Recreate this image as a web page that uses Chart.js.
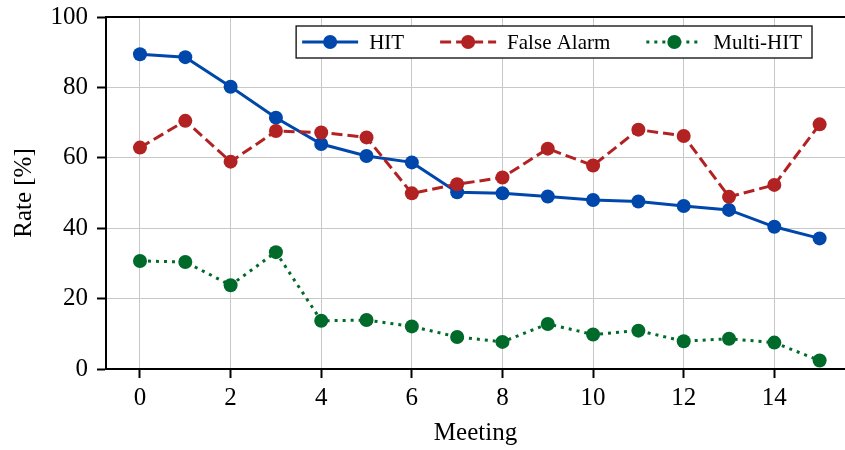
<!DOCTYPE html>
<html>
<head>
<meta charset="utf-8">
<script src="https://cdn.jsdelivr.net/npm/chart.js@4.4.1/dist/chart.umd.min.js"></script>
<style>
  html, body { margin: 0; padding: 0; background: #ffffff; overflow: hidden; }
  canvas { display: block; }
</style>
</head>
<body>
<canvas id="chart" width="845" height="450"></canvas>
<script>
// Per-meeting detection rates (percent)
const meetings = [0, 1, 2, 3, 4, 5, 6, 7, 8, 9, 10, 11, 12, 13, 14, 15];
const hitRate = [89.4, 88.6, 80.2, 71.4, 63.9, 60.5, 58.7, 50.2, 49.9, 49.0, 48.0, 47.6, 46.3, 45.2, 40.4, 37.1];
const falseAlarmRate = [62.9, 70.5, 58.9, 67.6, 67.2, 65.8, 49.9, 52.5, 54.4, 62.6, 57.8, 68.0, 66.2, 48.9, 52.3, 69.5];
const multiHitRate = [30.7, 30.4, 23.8, 33.2, 13.7, 13.9, 12.1, 9.1, 7.7, 12.8, 9.8, 10.9, 7.9, 8.6, 7.5, 2.4];
const seriesNames = ['HIT', 'False Alarm', 'Multi-HIT'];
const xTickValues = [0, 2, 4, 6, 8, 10, 12, 14];
const yTickValues = [0, 20, 40, 60, 80, 100];

const SERIF = '"Liberation Serif", "Times New Roman", serif';
const toPoints = (vals) => vals.map((v, i) => ({ x: meetings[i], y: v }));

// Framed legend in the upper-right corner of the plot, line + marker handles
const framedLegend = {
  id: 'framedLegend',
  afterDatasetsDraw(chart) {
    const ctx = chart.ctx;
    const area = chart.chartArea;
    const datasets = chart.data.datasets;
    ctx.save();
    ctx.font = '21px ' + SERIF;
    const handleLen = 56, lead = 6, textGap = 11, itemGap = 36, trail = 10, boxH = 32;
    const widths = datasets.map(ds => ctx.measureText(ds.label).width);
    let total = lead;
    widths.forEach((w, i) => { total += handleLen + textGap + w + (i < widths.length - 1 ? itemGap : trail); });
    const boxRight = area.right - 33;
    const boxLeft = boxRight - total;
    const boxTop = area.top + 9;
    ctx.fillStyle = '#ffffff';
    ctx.fillRect(boxLeft, boxTop, total, boxH);
    ctx.strokeStyle = '#1a1a1a';
    ctx.lineWidth = 1.4;
    ctx.strokeRect(boxLeft, boxTop, total, boxH);
    const cy = boxTop + boxH / 2;
    let x = boxLeft + lead;
    datasets.forEach((ds, i) => {
      ctx.save();
      ctx.strokeStyle = ds.borderColor;
      ctx.lineWidth = ds.borderWidth;
      ctx.lineCap = 'butt';
      ctx.setLineDash(ds.borderDash || []);
      ctx.beginPath();
      ctx.moveTo(x, cy);
      ctx.lineTo(x + handleLen, cy);
      ctx.stroke();
      ctx.setLineDash([]);
      ctx.fillStyle = ds.pointBackgroundColor;
      ctx.beginPath();
      ctx.arc(x + handleLen / 2, cy, ds.pointRadius, 0, Math.PI * 2);
      ctx.fill();
      ctx.restore();
      ctx.fillStyle = '#000000';
      ctx.textBaseline = 'middle';
      ctx.textAlign = 'left';
      ctx.fillText(ds.label, x + handleLen + textGap, cy + 1);
      x += handleLen + textGap + widths[i] + itemGap;
    });
    ctx.restore();
  }
};

function series(label, values, color, dash, order) {
  return {
    label,
    data: toPoints(values),
    borderColor: color,
    backgroundColor: color,
    pointBackgroundColor: color,
    pointBorderColor: color,
    pointBorderWidth: 0,
    pointRadius: 7,
    borderWidth: 3,
    borderDash: dash,
    borderCapStyle: 'butt',
    tension: 0,
    fill: false,
    clip: false,
    order,
    xAxisID: 'x',
    yAxisID: 'y'
  };
}

const tickFont = { family: SERIF, size: 25 };
const gridColor = '#c8c8c8';
const noPad = (s) => { s.paddingTop = 0; s.paddingBottom = 0; s.paddingLeft = 0; s.paddingRight = 0; };

new Chart(document.getElementById('chart'), {
  type: 'line',
  data: {
    datasets: [
      series(seriesNames[0], hitRate, '#0047ab', [], 3),
      series(seriesNames[1], falseAlarmRate, '#b22222', [11, 5], 2),
      series(seriesNames[2], multiHitRate, '#006a2b', [3, 5], 1)
    ]
  },
  options: {
    responsive: false,
    animation: false,
    devicePixelRatio: 1,
    layout: { autoPadding: false, padding: { top: 17, right: 0, bottom: 0, left: 0 } },
    plugins: { legend: { display: false }, tooltip: { enabled: false } },
    scales: {
      x: {
        type: 'linear',
        position: 'bottom',
        min: -0.75,
        max: 15.56,
        afterBuildTicks: (s) => { s.ticks = xTickValues.map(v => ({ value: v })); },
        afterFit: (s) => { s.height = 81; noPad(s); },
        grid: { color: gridColor, lineWidth: 1, drawTicks: true, tickLength: 9, tickColor: '#000000', tickWidth: 2 },
        border: { display: true, color: '#000000', width: 2 },
        ticks: { color: '#000000', font: tickFont, padding: 5, maxRotation: 0, autoSkip: false },
        title: { display: true, text: 'Meeting', color: '#000000', font: tickFont, padding: { top: 0, bottom: 2 } }
      },
      xTop: {
        type: 'linear',
        position: 'top',
        min: -0.75,
        max: 15.56,
        afterFit: (s) => { s.height = 0; noPad(s); },
        grid: { display: false, drawTicks: false },
        border: { display: true, color: '#000000', width: 2 },
        ticks: { display: false }
      },
      y: {
        type: 'linear',
        position: 'left',
        min: 0,
        max: 100,
        afterBuildTicks: (s) => { s.ticks = yTickValues.map(v => ({ value: v })); },
        afterFit: (s) => { s.width = 106; noPad(s); },
        grid: { color: gridColor, lineWidth: 1, drawTicks: true, tickLength: 9, tickColor: '#000000', tickWidth: 2 },
        border: { display: true, color: '#000000', width: 2 },
        ticks: { color: '#000000', font: tickFont, padding: 9, autoSkip: false },
        title: { display: true, text: 'Rate [%]', color: '#000000', font: tickFont, padding: { top: 9, bottom: 0 } }
      }
    }
  },
  plugins: [framedLegend]
});
</script>
</body>
</html>
